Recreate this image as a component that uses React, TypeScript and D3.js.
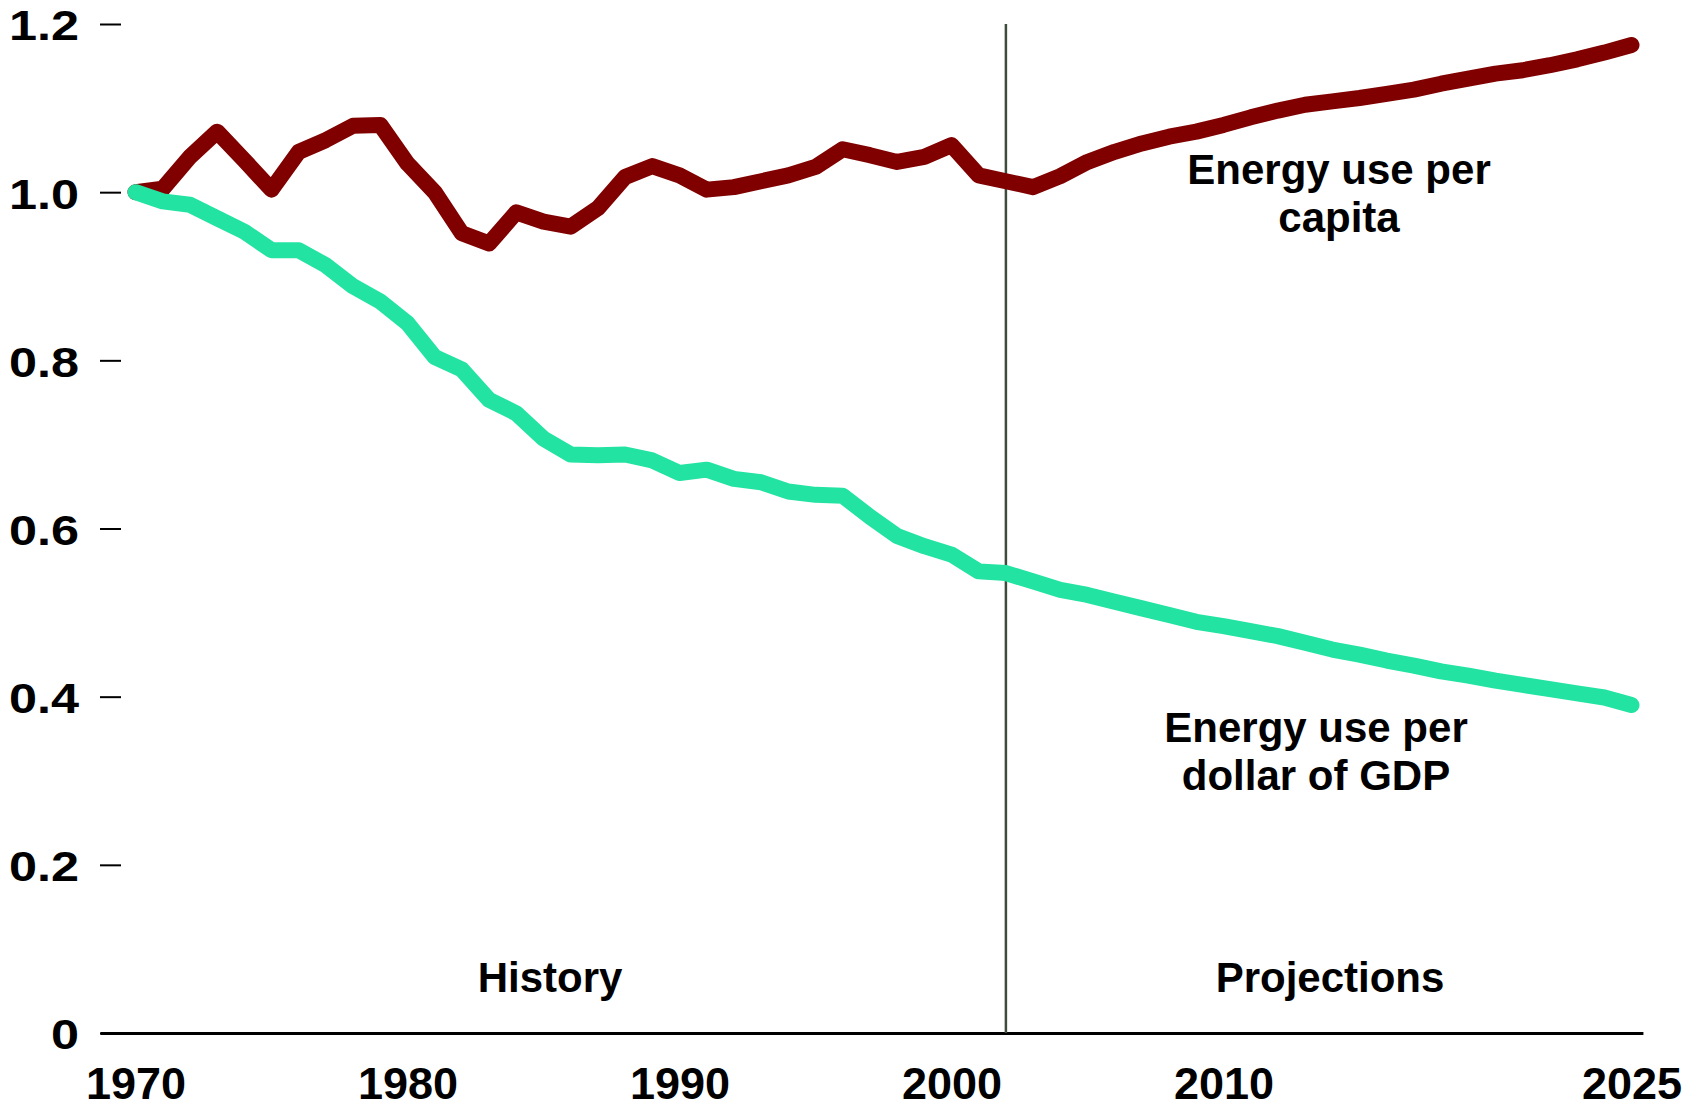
import { useEffect, useRef } from "react";
import * as d3 from "d3";

const years = d3.range(1970, 2026);

const perCapita = [
  1.0, 1.004, 1.042, 1.072, 1.038, 1.003, 1.048, 1.062, 1.079, 1.08,
  1.034, 1.0, 0.951, 0.939, 0.976, 0.965, 0.959, 0.981, 1.018, 1.031,
  1.02, 1.003, 1.006, 1.013, 1.02, 1.03, 1.051, 1.044, 1.036, 1.042,
  1.056, 1.02, 1.013, 1.006, 1.019, 1.036, 1.048, 1.058, 1.066, 1.072,
  1.08, 1.089, 1.097, 1.104, 1.108, 1.112, 1.117, 1.122, 1.129, 1.135,
  1.141, 1.145, 1.151, 1.158, 1.166, 1.175,
];

const perGdp = [
  1.0, 0.989, 0.985, 0.969, 0.953, 0.931, 0.931, 0.913, 0.888, 0.87,
  0.844, 0.804, 0.789, 0.753, 0.737, 0.707, 0.688, 0.687, 0.688, 0.681,
  0.666, 0.67, 0.659, 0.655, 0.644, 0.64, 0.639, 0.614, 0.591, 0.579,
  0.569, 0.549, 0.547, 0.537, 0.527, 0.521, 0.513, 0.505, 0.497, 0.489,
  0.484, 0.478, 0.472, 0.464, 0.456, 0.45, 0.443, 0.437, 0.43, 0.425,
  0.419, 0.414, 0.409, 0.404, 0.399, 0.39,
];

const xTickYears = [1970, 1980, 1990, 2000, 2010, 2025];
const yTickValues = [0, 0.2, 0.4, 0.6, 0.8, 1.0, 1.2];
const projectionStart = 2002;

const font = "'Liberation Sans', Arial, Helvetica, sans-serif";

const EnergyChart = ({ width, height }) => {
  const svgRef = useRef();

  const draw = () => {
    const svg = d3.select(svgRef.current);
    svg.selectAll("*").remove();

    const x = d3.scaleLinear().domain([1970, 2025]).range([135.5, 1631.5]);
    const y = d3.scaleLinear().domain([0, 1.2]).range([1033, 24]);

    // x axis: the domain line runs a bit past the first and last year
    const xAxisScale = d3
      .scaleLinear()
      .domain([1968.7, 2025.42])
      .range([x(1968.7), x(2025.42)]);
    const xAxis = d3
      .axisBottom(xAxisScale)
      .tickValues(xTickYears)
      .tickFormat((d) => `${d}`)
      .tickSizeInner(0)
      .tickSizeOuter(0)
      .tickPadding(34);
    const gx = svg
      .append("g")
      .attr("transform", `translate(0, ${y(0)})`)
      .call(xAxis);
    gx.select(".domain").attr("stroke", "#000").attr("stroke-width", 3);
    gx.selectAll("text")
      .attr("fill", "#000")
      .style("font-family", font)
      .style("font-weight", "bold")
      .style("font-size", "45px");

    const yAxis = d3
      .axisLeft(y)
      .tickValues(yTickValues)
      .tickFormat((d) => (d === 0 ? "0" : d3.format(".1f")(d)))
      .tickSize(21);
    const gy = svg
      .append("g")
      .attr("transform", `translate(121, 0)`)
      .call(yAxis);
    gy.select(".domain").remove();
    gy.selectAll("line").attr("stroke", "#000").attr("stroke-width", 2);
    // tick labels in the original are drawn a little wider than normal
    gy.selectAll("text")
      .attr("x", 0)
      .attr("dy", "0.38em")
      .attr("transform", "translate(-42,0) scale(1.2,1)")
      .attr("fill", "#000")
      .style("font-family", font)
      .style("font-weight", "bold")
      .style("font-size", "42px");

    // history / projections divider
    svg
      .append("line")
      .attr("x1", x(projectionStart))
      .attr("x2", x(projectionStart))
      .attr("y1", y(1.2))
      .attr("y2", y(0))
      .attr("stroke", "#3f4b3c")
      .attr("stroke-width", 2.5);

    const line = (vals) =>
      d3
        .line()
        .x((d, i) => x(years[i]))
        .y((d) => y(d))(vals);

    svg
      .append("path")
      .attr("d", line(perCapita))
      .attr("fill", "none")
      .attr("stroke", "#800000")
      .attr("stroke-width", 16)
      .attr("stroke-linecap", "round")
      .attr("stroke-linejoin", "round");

    svg
      .append("path")
      .attr("d", line(perGdp))
      .attr("fill", "none")
      .attr("stroke", "#22e3a1")
      .attr("stroke-width", 16)
      .attr("stroke-linecap", "round")
      .attr("stroke-linejoin", "round");

    const label = (lines, cx, baseline) => {
      const t = svg
        .append("text")
        .attr("text-anchor", "middle")
        .attr("fill", "#000")
        .style("font-family", font)
        .style("font-weight", "bold")
        .style("font-size", "42px");
      lines.forEach((s, i) => {
        t.append("tspan")
          .attr("x", cx)
          .attr("y", baseline + i * 48)
          .text(s);
      });
    };

    label(["Energy use per", "capita"], 1339, 184);
    label(["Energy use per", "dollar of GDP"], 1316, 742);
    label(["History"], 550, 992);
    label(["Projections"], 1330, 992);
  };

  useEffect(() => {
    draw();
  }, [width, height]);

  return (
    <svg
      ref={svgRef}
      width={width}
      height={height}
      style={{ position: "absolute", left: 0, top: 0, background: "#fff" }}
    ></svg>
  );
};

export default function App() {
  return <EnergyChart width={1700} height={1105} />;
}
